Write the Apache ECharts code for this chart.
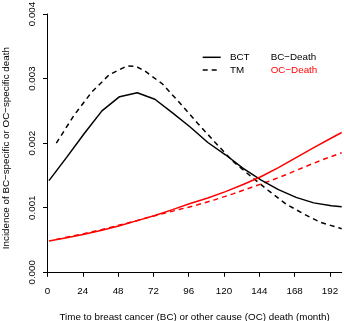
<!DOCTYPE html>
<html>
<head>
<meta charset="utf-8">
<script src="https://cdn.jsdelivr.net/npm/echarts@6/dist/echarts.min.js"></script>
<style>
  html, body { margin: 0; padding: 0; background: #fff; }
  #chart { width: 344px; height: 321px; }
</style>
</head>
<body>
<div id="chart"></div>
<script>
// months for BCT curves and TM curves (TM starts a bit later)
const bctMonths = [1, 13, 25, 37, 49, 61, 73, 85, 97, 109, 121, 133, 145, 157, 169, 181, 193, 200];
const tmMonths = [6, 18, 30, 42, 54, 60, 66, 78, 90, 102, 114, 126, 138, 150, 162, 174, 186, 198, 200];

// incidence values (x 0.001)
const bctBC = [1.42, 1.78, 2.15, 2.50, 2.72, 2.78, 2.68, 2.47, 2.25, 2.01, 1.82, 1.61, 1.43, 1.28, 1.16, 1.075, 1.03, 1.015];
const tmBC = [2.00, 2.43, 2.79, 3.06, 3.195, 3.19, 3.12, 2.92, 2.62, 2.31, 2.01, 1.72, 1.49, 1.27, 1.06, 0.905, 0.77, 0.69, 0.675];
const bctOC = [0.485, 0.535, 0.59, 0.65, 0.72, 0.80, 0.88, 0.97, 1.065, 1.15, 1.25, 1.36, 1.48, 1.62, 1.775, 1.93, 2.08, 2.165];
const tmOC = [0.51, 0.565, 0.625, 0.69, 0.76, 0.795, 0.835, 0.905, 0.975, 1.045, 1.125, 1.215, 1.31, 1.405, 1.51, 1.625, 1.735, 1.835, 1.85];

const xTicks = [0, 24, 48, 72, 96, 120, 144, 168, 192];

const font = "'Liberation Sans', Arial, sans-serif";
const fs = 9.8;

function pairs(xs, ys) {
  return xs.map((x, i) => [x, ys[i] / 1000]);
}

function lineSeries(name, xs, ys, color, dashed) {
  return {
    name: name,
    type: "line",
    data: pairs(xs, ys),
    showSymbol: false,
    smooth: false,
    lineStyle: { color: color, width: 1.5, type: dashed ? [5, 4] : "solid" },
    z: dashed ? 3 : 4,
  };
}

const chart = echarts.init(document.getElementById("chart"));

chart.setOption({
  animation: false,
  textStyle: { fontFamily: font },
  grid: { left: 47.5, right: 2.3, top: 14, bottom: 48.7, outerBoundsMode: "none" },
  xAxis: {
    type: "value",
    min: 0,
    max: 200,
    name: "Time to breast cancer (BC) or other cause (OC) death (month)",
    nameLocation: "middle",
    nameGap: 40,
    nameTextStyle: { color: "#000", fontSize: fs, fontFamily: font },
    axisLine: { show: true, lineStyle: { color: "#000", width: 1 } },
    axisTick: { show: true, length: 4.5, customValues: xTicks, lineStyle: { color: "#000" } },
    axisLabel: { customValues: xTicks, color: "#000", fontSize: fs, margin: 13.5, fontFamily: font },
    splitLine: { show: false },
  },
  yAxis: {
    type: "value",
    min: 0,
    max: 0.004,
    interval: 0.001,
    name: "Incidence of BC\u2212specific or OC\u2212specific death",
    nameLocation: "middle",
    nameGap: 36,
    // R centres this title a little lower than the plot middle
    nameTextStyle: { color: "#000", fontSize: fs, fontFamily: font, padding: [0, 10, 0, 0] },
    axisLine: { show: true, lineStyle: { color: "#000", width: 1 } },
    axisTick: { show: true, length: 4.5, lineStyle: { color: "#000" } },
    axisLabel: {
      rotate: 90,
      color: "#000",
      fontSize: fs,
      margin: 10,
      fontFamily: font,
      formatter: (v) => v.toFixed(3),
    },
    splitLine: { show: false },
  },
  series: [
    lineSeries("BCT BC-Death", bctMonths, bctBC, "#000", false),
    lineSeries("TM BC-Death", tmMonths, tmBC, "#000", true),
    lineSeries("BCT OC-Death", bctMonths, bctOC, "#ff0000", false),
    lineSeries("TM OC-Death", tmMonths, tmOC, "#ff0000", true),
  ],
  // legend drawn by hand like the R legend
  graphic: [
    { type: "line", shape: { x1: 202.7, y1: 57.3, x2: 220.7, y2: 57.3 }, style: { stroke: "#000", lineWidth: 1.5 } },
    { type: "line", shape: { x1: 202.7, y1: 70, x2: 220.7, y2: 70 }, style: { stroke: "#000", lineWidth: 1.5, lineDash: [5, 4] } },
    { type: "text", left: 230, top: 52, style: { text: "BCT", fill: "#000", font: fs + "px " + font } },
    { type: "text", left: 230, top: 65, style: { text: "TM", fill: "#000", font: fs + "px " + font } },
    { type: "text", left: 270.7, top: 52, style: { text: "BC\u2212Death", fill: "#000", font: fs + "px " + font } },
    { type: "text", left: 270.7, top: 65, style: { text: "OC\u2212Death", fill: "#ff0000", font: fs + "px " + font } },
  ],
});
</script>
</body>
</html>
